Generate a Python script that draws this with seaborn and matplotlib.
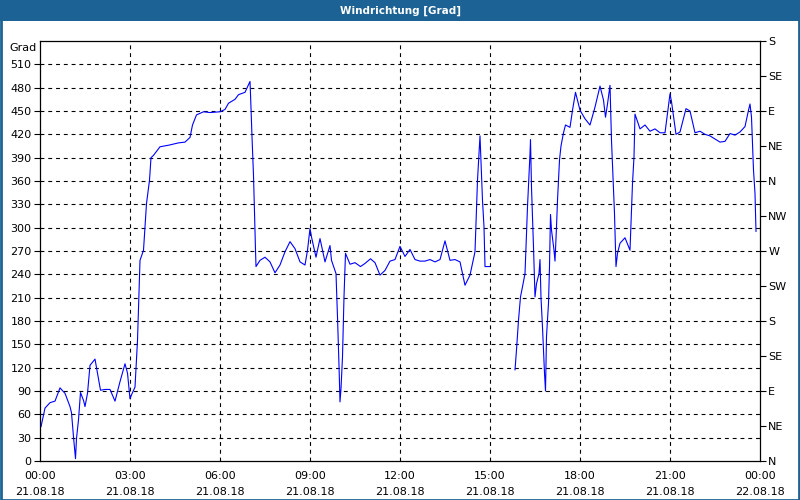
import numpy as np
import pandas as pd
import matplotlib
matplotlib.use("Agg")
import matplotlib.pyplot as plt
import seaborn as sns
from matplotlib.patches import Rectangle

# ---- data (minutes after 21.08.18 00:00, wind direction in degrees) ----
seg1_minutes = [2, 10, 20, 30, 40, 50, 60, 63, 67, 71, 73, 77, 81, 87, 90, 95, 100, 110, 121, 130,
                140, 150, 160, 170, 175, 180, 183, 190, 195, 200, 207, 213, 219, 222, 227, 240, 257,
                277, 290, 300, 305, 313, 327, 340, 360, 370, 377, 390, 397, 410, 420, 421, 424, 427,
                429, 431, 432, 440, 450, 460, 470, 480, 490, 500, 510, 520, 530, 535, 540, 543, 552,
                560, 570, 580, 583, 592, 595, 598, 600, 602, 605, 608, 611, 620, 630, 641, 650, 661,
                670, 680, 690, 700, 710, 720, 730, 740, 750, 760, 770, 780, 790, 800, 810, 820, 830,
                840, 850, 860, 870, 875, 880, 885, 888, 890, 900]
seg1_values = [44, 68, 75, 77, 94, 87, 70, 62, 31, 3, 29, 53, 88, 78, 70, 87, 123, 131, 91, 92,
               92, 77, 102, 125, 113, 80, 85, 95, 155, 258, 271, 331, 361, 390, 393, 404, 406,
               409, 410, 416, 432, 445, 449, 448, 449, 452, 460, 465, 471, 474, 488, 472, 417, 367,
               320, 271, 250, 258, 262, 256, 242, 252, 269, 282, 273, 256, 252, 271, 299, 288, 262,
               286, 256, 277, 258, 241, 185, 123, 76, 93, 134, 211, 267, 253, 255, 250, 254, 260,
               255, 239, 245, 257, 259, 276, 263, 272, 259, 257, 257, 259, 256, 259, 283, 258, 259,
               256, 226, 239, 269, 361, 418, 335, 301, 250, 250]

seg2_minutes = [950, 953, 957, 961, 965, 970, 972, 975, 980, 981, 983, 987, 990, 993, 998, 1000,
                1002, 1005, 1009, 1011, 1013, 1017, 1019, 1021, 1023, 1028, 1030, 1033, 1035, 1039,
                1042, 1047, 1051, 1060, 1065, 1071, 1080, 1090, 1100, 1110, 1120, 1127, 1131, 1135,
                1140, 1143, 1149, 1151, 1152, 1155, 1160, 1170, 1180, 1185, 1188, 1190, 1200, 1210,
                1220, 1230, 1240, 1250, 1260, 1263, 1272, 1280, 1292, 1300, 1310, 1320, 1330, 1340,
                1350, 1360, 1370, 1380, 1390, 1400, 1410, 1417, 1420, 1423, 1427, 1430, 1432]
seg2_values = [117, 143, 181, 211, 224, 241, 275, 327, 395, 413, 352, 275, 211, 228, 241, 259,
               210, 172, 113, 90, 160, 203, 250, 317, 297, 271, 257, 301, 335, 387,
               405, 422, 432, 429, 451, 474, 451, 440, 432, 455, 482, 464, 442, 459,
               483, 412, 318, 272, 250, 267, 280, 287, 271, 357, 391, 446, 427, 432,
               424, 427, 422, 422, 472, 462, 420, 423, 453, 450, 422, 424, 420, 418,
               414, 410, 411, 421, 419, 423, 430, 451, 459, 442, 374, 344, 295]

x_tick_hours = [0, 3, 6, 9, 12, 15, 18, 21, 24]
x_tick_labels = ["00:00\n21.08.18", "03:00\n21.08.18", "06:00\n21.08.18", "09:00\n21.08.18",
                 "12:00\n21.08.18", "15:00\n21.08.18", "18:00\n21.08.18", "21:00\n21.08.18",
                 "00:00\n22.08.18"]
left_ticks = list(range(0, 511, 30))
right_ticks = list(range(0, 541, 45))
right_labels = ["N", "NE", "E", "SE", "S", "SW", "W", "NW", "N", "NE", "E", "SE", "S"]
title = "Windrichtung [Grad]"
unit_label = "Grad"

df = pd.DataFrame({
    "hour": np.array(seg1_minutes + seg2_minutes) / 60.0,
    "deg": seg1_values + seg2_values,
    "seg": [1] * len(seg1_minutes) + [2] * len(seg2_minutes),
})

sns.set_theme(style="white")
plt.rcParams["font.family"] = ["DejaVu Sans"]

W, H = 800, 500
fig = plt.figure(figsize=(8, 5), dpi=100)
fig.patch.set_facecolor("white")
bar_col = "#1D6294"

ax = fig.add_axes([40 / W, 1 - 461 / H, 720 / W, 420 / H])
ax.set_facecolor("white")

sns.lineplot(data=df, x="hour", y="deg", units="seg", estimator=None,
             color="#0000FF", linewidth=0.8, ax=ax, legend=False)

ax.set_xlim(0, 24)
ax.set_ylim(0, 540)
ax.set_xlabel("")
ax.set_ylabel("")

ax.set_xticks(x_tick_hours)
ax.set_xticklabels(x_tick_labels, linespacing=1.75)
ax.set_xticks(np.arange(0, 25, 1), minor=True)
ax.set_yticks(left_ticks)
ax.set_yticklabels([str(v) for v in left_ticks])

ax.tick_params(axis="both", which="both", direction="out", length=4, width=0.8,
               color="black", labelsize=8, labelcolor="black", pad=2)
ax.tick_params(axis="x", which="major", pad=3)
ax.tick_params(axis="x", which="minor", length=4)

for s in ax.spines.values():
    s.set_visible(True)
    s.set_color("black")
    s.set_linewidth(0.9)

ax.grid(False)
for v in left_ticks[1:]:
    ax.axhline(v, color="black", linestyle=(0, (3.5, 3.5)), linewidth=0.8, zorder=0)
for h in x_tick_hours[1:-1]:
    ax.axvline(h, color="black", linestyle=(0, (3.5, 3.5)), linewidth=0.8, zorder=0)

ax.text(-0.004, 537, unit_label, transform=ax.get_yaxis_transform(), ha="right", va="top",
        fontsize=8, color="black")

ax2 = ax.twinx()
ax2.set_ylim(0, 540)
ax2.set_yticks(right_ticks)
ax2.set_yticklabels(right_labels)
ax2.tick_params(axis="y", direction="out", length=4, width=0.8, color="black",
                labelsize=8, labelcolor="black", pad=2)
for s in ax2.spines.values():
    s.set_visible(False)
ax2.grid(False)

# title bar and border
fig.patches.append(Rectangle((0, 1 - 21 / H), 1, 21 / H, transform=fig.transFigure,
                             facecolor=bar_col, edgecolor="none", zorder=0))
fig.patches.append(Rectangle((0.5 / W, 0.5 / H), 1 - 1.5 / W, 1 - 1.5 / H, transform=fig.transFigure,
                             facecolor="none", edgecolor=bar_col, linewidth=2, zorder=5))
fig.text(0.5, 1 - 10.5 / H, title, color="white", fontsize=7.5, fontweight="bold",
         ha="center", va="center")

fig.savefig("out.png", dpi=100, facecolor="white")
